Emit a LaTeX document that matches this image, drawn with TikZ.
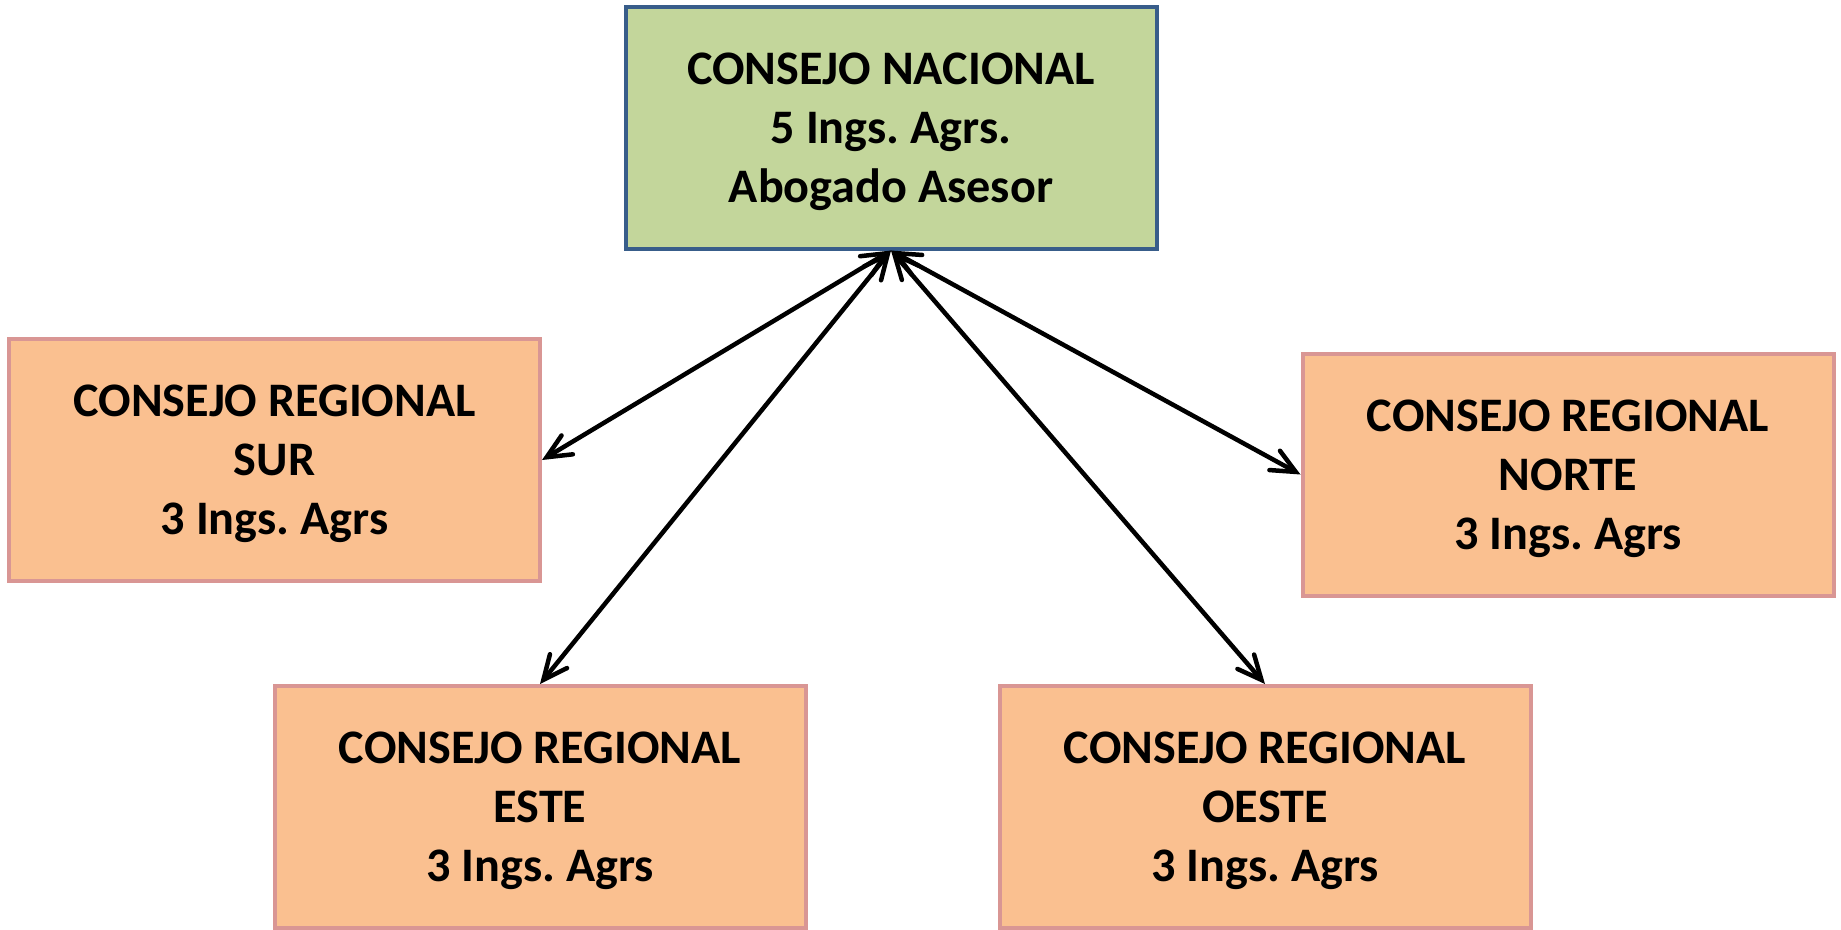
\documentclass[tikz,border=0pt]{standalone}
\usepackage{fontspec}
\setmainfont{Carlito}
\frenchspacing
\usetikzlibrary{arrows.meta}
\definecolor{nacfill}{RGB}{195,214,155}
\definecolor{nacline}{RGB}{56,93,138}
\definecolor{regfill}{RGB}{250,192,144}
\definecolor{regline}{RGB}{217,150,148}
\tikzset{
    consejo/.style={draw, line width=0.4mm, minimum width=5.31cm, minimum height=2.42cm,
        inner sep=0pt, align=center, text depth=-1.6pt,
        font=\fontsize{13.7}{16.8}\selectfont\bfseries},
    nacional/.style={consejo, fill=nacfill, draw=nacline},
    regional/.style={consejo, fill=regfill, draw=regline},
    enlace/.style={line width=0.45mm, {Straight Barb[length=2.4mm,width=2.2mm,line cap=round]}-{Straight Barb[length=2.4mm,width=2.2mm,line cap=round]}}
}
\begin{document}
\begin{tikzpicture}
        \useasboundingbox (0, 0) rectangle (18.41, -9.29);
        \node[nacional] (CN) at (8.91, -1.275) {CONSEJO NACIONAL\\5 Ings. Agrs.\\Abogado Asesor};
        \node[regional] (CRS) at (2.745, -4.60) {CONSEJO REGIONAL\\SUR\\3 Ings. Agrs};
        \node[regional] (CRN) at (15.68, -4.745) {CONSEJO REGIONAL\\NORTE\\3 Ings. Agrs};
        \node[regional] (CRE) at (5.40, -8.07) {CONSEJO REGIONAL\\ESTE\\3 Ings. Agrs};
        \node[regional] (CRO) at (12.65, -8.07) {CONSEJO REGIONAL\\OESTE\\3 Ings. Agrs};
        \path [enlace] (CN.south) edge (CRS.east);
        \path [enlace] (CN.south) edge (CRE.north);
        \path [enlace] (CN.south) edge (CRO.north);
        \path [enlace] (CN.south) edge (CRN.west);
    \end{tikzpicture}
\end{document}
